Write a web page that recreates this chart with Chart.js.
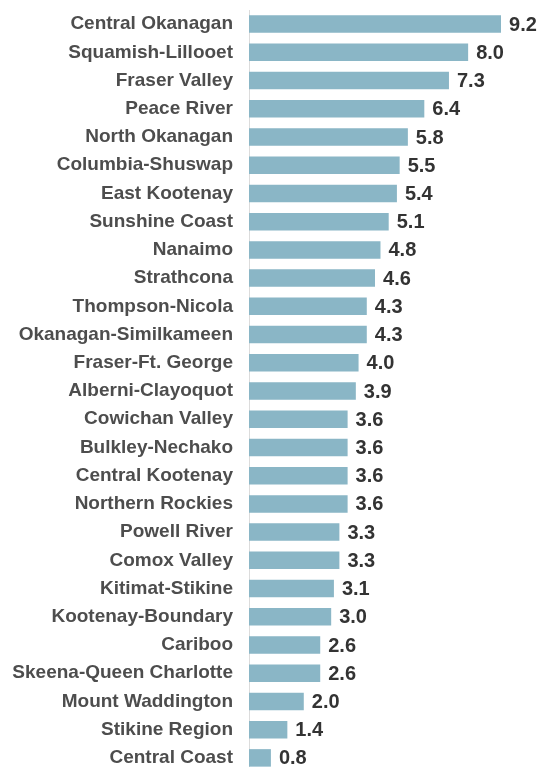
<!DOCTYPE html>
<html>
<head>
<meta charset="utf-8">
<script src="https://cdn.jsdelivr.net/npm/chart.js@4"></script>
<style>
  html, body { margin: 0; padding: 0; background: #fff; overflow: hidden; }
  #wrap { width: 541px; height: 767px; overflow: hidden; }
  canvas { display: block; }
</style>
</head>
<body>
<div id="wrap"><canvas id="barChart" width="541" height="780"></canvas></div>
<script>
// 地域名
const regions = [
    'Central Okanagan', 'Squamish-Lillooet', 'Fraser Valley', 'Peace River',
    'North Okanagan', 'Columbia-Shuswap', 'East Kootenay', 'Sunshine Coast',
    'Nanaimo', 'Strathcona', 'Thompson-Nicola', 'Okanagan-Similkameen',
    'Fraser-Ft. George', 'Alberni-Clayoquot', 'Cowichan Valley', 'Bulkley-Nechako',
    'Central Kootenay', 'Northern Rockies', 'Powell River', 'Comox Valley',
    'Kitimat-Stikine', 'Kootenay-Boundary', 'Cariboo', 'Skeena-Queen Charlotte',
    'Mount Waddington', 'Stikine Region', 'Central Coast'
];

// 値
const values = [
    9.2, 8.0, 7.3, 6.4, 5.8, 5.5, 5.4, 5.1, 4.8, 4.6, 4.3, 4.3, 4.0, 3.9,
    3.6, 3.6, 3.6, 3.6, 3.3, 3.3, 3.1, 3.0, 2.6, 2.6, 2.0, 1.4, 0.8
];

const fontFamily = '"Liberation Sans", Arial, sans-serif';

// バー右端に値を描く
const valueLabels = {
    id: 'valueLabels',
    afterDatasetsDraw(chart) {
        const ctx = chart.ctx;
        const meta = chart.getDatasetMeta(0);
        ctx.save();
        ctx.font = `bold 20px ${fontFamily}`;
        ctx.fillStyle = '#333333';
        ctx.textAlign = 'left';
        ctx.textBaseline = 'middle';
        meta.data.forEach((bar, i) => {
            ctx.fillText(values[i].toFixed(1), bar.x + 8, bar.y + 1);
        });
        ctx.restore();
    }
};

new Chart(document.getElementById('barChart'), {
    type: 'bar',
    data: {
        labels: regions,
        datasets: [{
            data: values,
            backgroundColor: '#8ab6c6',
            borderWidth: 0,
            categoryPercentage: 1,
            barPercentage: 0.62
        }]
    },
    options: {
        indexAxis: 'y',
        responsive: false,
        animation: false,
        events: [],
        layout: { padding: { top: 10, bottom: 8, left: 0, right: 0 } },
        plugins: {
            legend: { display: false },
            tooltip: { enabled: false }
        },
        scales: {
            x: { display: false, min: 0, max: 10.66 },
            y: {
                afterFit(scale) {
                    scale.width = 249;
                    scale.paddingTop = 0;
                    scale.paddingBottom = 0;
                },
                grid: { display: false, drawTicks: false },
                border: { display: true, color: '#dcdcdc', width: 1 },
                ticks: {
                    padding: 16,
                    color: '#4d4d4d',
                    font: { family: fontFamily, size: 19, weight: 'bold' }
                }
            }
        }
    },
    plugins: [valueLabels]
});
</script>
</body>
</html>
